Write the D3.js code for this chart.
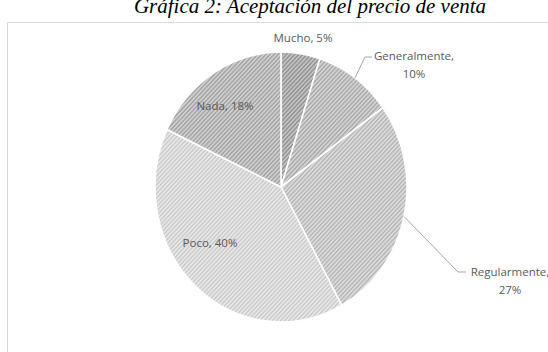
<!DOCTYPE html>
<html>
<head>
<meta charset="utf-8">
<script src="https://cdn.jsdelivr.net/npm/d3@7"></script>
<style>
  html, body { margin: 0; padding: 0; background: #fff; }
  svg { display: block; }
</style>
</head>
<body>
<svg id="chart" width="548" height="352"></svg>
<script>
// Survey answers: acceptance of the selling price
const categories = ["Mucho", "Generalmente", "Regularmente", "Poco", "Nada"];
const percentages = [5, 10, 27, 40, 18];
// Base tone and stripe tone of each slice's hatch fill
const baseTones = ["#c4c4c4", "#d4d4d4", "#dcdcdc", "#e8e8e8", "#d0d0d0"];
const stripeTones = ["#8e8e8e", "#a6a6a6", "#b2b2b2", "#c8c8c8", "#a0a0a0"];

const svg = d3.select("#chart");
const W = 548, H = 352;

// Title (partly above the frame)
svg.append("text")
  .attr("x", 310).attr("y", 13)
  .attr("text-anchor", "middle")
  .attr("font-family", "'Liberation Serif', 'DejaVu Serif', serif")
  .attr("font-style", "italic")
  .attr("font-size", 21)
  .attr("fill", "#000")
  .text("Gráfica 2: Aceptación del precio de venta");

// Chart frame
svg.append("rect")
  .attr("x", 7.5).attr("y", 22.5)
  .attr("width", W + 20).attr("height", H + 20)
  .attr("fill", "#fff")
  .attr("stroke", "#d9d9d9")
  .attr("stroke-width", 1);

// Hatch patterns
const defs = svg.append("defs");
categories.forEach((c, i) => {
  const p = defs.append("pattern")
    .attr("id", "hatch" + i)
    .attr("patternUnits", "userSpaceOnUse")
    .attr("width", 3).attr("height", 3)
    .attr("patternTransform", "rotate(45)");
  p.append("rect").attr("width", 3).attr("height", 3).attr("fill", baseTones[i]);
  p.append("rect").attr("width", 1.3).attr("height", 3).attr("fill", stripeTones[i]);
});

const cx = 281, cy = 187, rx = 126, ry = 135;
const R = 130;

const pie = d3.pie().sort(null).value(d => d)
  .startAngle(0).endAngle(2 * Math.PI);
const arcs = pie(percentages);
const arc = d3.arc().innerRadius(0).outerRadius(R);

const g = svg.append("g")
  .attr("transform", `translate(${cx},${cy}) scale(${rx / R},${ry / R})`);

g.selectAll("path.slice")
  .data(arcs)
  .join("path")
  .attr("class", "slice")
  .attr("d", arc)
  .attr("fill", (d, i) => `url(#hatch${i})`)
  .attr("stroke", "#fff")
  .attr("stroke-width", 1.6);

// Labels
const labelColor = "#595959";
const font = "'Open Sans', 'Liberation Sans', sans-serif";
const labels = svg.append("g")
  .attr("font-family", font)
  .attr("font-size", 11.5)
  .attr("fill", labelColor)
  .attr("text-anchor", "middle");

function addLabel(lines, x, y) {
  const t = labels.append("text").attr("x", x).attr("y", y);
  lines.forEach((s, k) => {
    t.append("tspan").attr("x", x).attr("dy", k === 0 ? 0 : 18).text(s);
  });
}

addLabel([`${categories[0]}, ${percentages[0]}%`], 303, 42);
addLabel([`${categories[1]},`, `${percentages[1]}%`], 414, 60);
addLabel([`${categories[2]},`, `${percentages[2]}%`], 510, 276);
addLabel([`${categories[3]}, ${percentages[3]}%`], 210, 247);
addLabel([`${categories[4]}, ${percentages[4]}%`], 225, 110);

// Leader lines for the outside labels, starting at each slice's mid-angle
const leader = d3.line();
const pointOnEdge = (a) => [cx + rx * Math.sin(a), cy - ry * Math.cos(a)];
const midAngle = d => (d.startAngle + d.endAngle) / 2;

svg.append("path")
  .attr("d", leader([pointOnEdge(midAngle(arcs[1])), [365, 57], [372, 57]]))
  .attr("fill", "none").attr("stroke", "#a6a6a6").attr("stroke-width", 1);

svg.append("path")
  .attr("d", leader([pointOnEdge(midAngle(arcs[2])), [458, 272], [466, 272]]))
  .attr("fill", "none").attr("stroke", "#a6a6a6").attr("stroke-width", 1);
</script>
</body>
</html>
